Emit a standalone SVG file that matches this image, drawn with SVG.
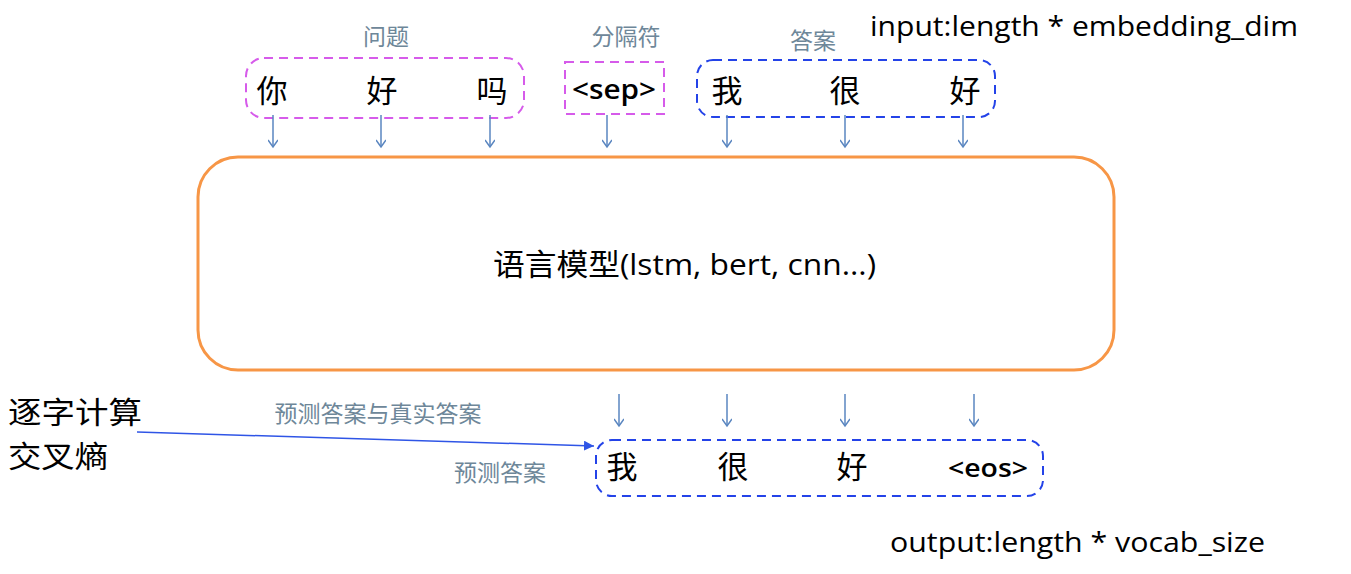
<svg xmlns="http://www.w3.org/2000/svg" width="1351" height="574" viewBox="0 0 1351 574">
<style>
.cn{font-family:"Noto Sans CJK SC","Liberation Serif",serif;fill:#000}
.big{font-size:31px}
.lbl{font-family:"Noto Sans CJK SC",sans-serif;font-size:23px;fill:#6E8799}
.en{font-family:"Open Sans","Liberation Sans",sans-serif;fill:#000}
.arr{stroke:#5A86C0;stroke-width:1.5;fill:none}
</style>
<defs>
<marker id="ah" markerWidth="12" markerHeight="10" refX="8" refY="5" orient="auto" markerUnits="userSpaceOnUse">
<path d="M1,0 L8,5 L1,10" fill="none" stroke="#5A86C0" stroke-width="1.5"/>
</marker>
<marker id="bh" markerWidth="12" markerHeight="10" refX="10" refY="5" orient="auto" markerUnits="userSpaceOnUse">
<path d="M0,0 L10,5 L0,10 z" fill="#2F55E6"/>
</marker>
</defs>
<rect width="1351" height="574" fill="#fff"/>
<g id="question">
<rect x="246" y="58" width="278" height="60" rx="18" fill="none" stroke="#D65BEA" stroke-width="2" stroke-dasharray="9,6"/>
<text class="cn big" x="272" y="102" text-anchor="middle">你</text>
<text class="cn big" x="382" y="102" text-anchor="middle">好</text>
<text class="cn big" x="492" y="102" text-anchor="middle">吗</text>
<text class="lbl" x="386" y="45" text-anchor="middle">问题</text>
</g>
<g id="sep">
<rect x="565" y="62" width="99" height="52" fill="none" stroke="#D65BEA" stroke-width="2" stroke-dasharray="9,6"/>
<text class="en" x="614" y="99" font-size="27" font-weight="600" text-anchor="middle" textLength="84" lengthAdjust="spacingAndGlyphs">&lt;sep&gt;</text>
<text class="lbl" x="626" y="45" text-anchor="middle">分隔符</text>
</g>
<g id="answer">
<rect x="697" y="60" width="298" height="57" rx="16" fill="none" stroke="#2443E8" stroke-width="2" stroke-dasharray="9,6"/>
<text class="cn big" x="727" y="102" text-anchor="middle">我</text>
<text class="cn big" x="845" y="102" text-anchor="middle">很</text>
<text class="cn big" x="965" y="102" text-anchor="middle">好</text>
<text class="lbl" x="813" y="49" text-anchor="middle">答案</text>
</g>
<g id="input-label">
<text class="en" x="870" y="36" font-size="28" textLength="428" lengthAdjust="spacingAndGlyphs">input:length * embedding_dim</text>
</g>
<g id="model">
<rect x="198" y="157" width="916" height="213" rx="40" fill="none" stroke="#F79646" stroke-width="3"/>
<text x="493" y="275" font-size="30" font-family="Open Sans,Noto Sans CJK SC,sans-serif" fill="#000" textLength="383" lengthAdjust="spacingAndGlyphs">语言模型(lstm, bert, cnn...)</text>
</g>
<g id="prediction">
<rect x="596" y="440" width="447" height="56" rx="16" fill="none" stroke="#2443E8" stroke-width="2" stroke-dasharray="9,6"/>
<text class="cn big" x="622" y="478" text-anchor="middle">我</text>
<text class="cn big" x="733" y="478" text-anchor="middle">很</text>
<text class="cn big" x="852" y="478" text-anchor="middle">好</text>
<text class="en" x="988" y="477" font-size="26" font-weight="600" text-anchor="middle" textLength="80" lengthAdjust="spacingAndGlyphs">&lt;eos&gt;</text>
<text class="lbl" x="500" y="481" text-anchor="middle">预测答案</text>
</g>
<g id="loss">
<text class="cn" x="8" y="423" font-size="30" textLength="134" lengthAdjust="spacingAndGlyphs">逐字计算</text>
<text class="cn" x="8" y="467" font-size="30" textLength="100" lengthAdjust="spacingAndGlyphs">交叉熵</text>
<text class="lbl" x="378" y="422" text-anchor="middle">预测答案与真实答案</text>
</g>
<g id="output-label">
<text class="en" x="890" y="552" font-size="28" textLength="375" lengthAdjust="spacingAndGlyphs">output:length * vocab_size</text>
</g>
<g id="connectors">
<line class="arr" x1="273" y1="115" x2="273" y2="147" marker-end="url(#ah)"/>
<line class="arr" x1="381" y1="115" x2="381" y2="147" marker-end="url(#ah)"/>
<line class="arr" x1="490" y1="115" x2="490" y2="147" marker-end="url(#ah)"/>
<line class="arr" x1="607" y1="115" x2="607" y2="147" marker-end="url(#ah)"/>
<line class="arr" x1="727" y1="115" x2="727" y2="147" marker-end="url(#ah)"/>
<line class="arr" x1="845" y1="115" x2="845" y2="147" marker-end="url(#ah)"/>
<line class="arr" x1="963" y1="115" x2="963" y2="147" marker-end="url(#ah)"/>
<line class="arr" x1="619" y1="394" x2="619" y2="426" marker-end="url(#ah)"/>
<line class="arr" x1="727" y1="394" x2="727" y2="426" marker-end="url(#ah)"/>
<line class="arr" x1="845" y1="394" x2="845" y2="426" marker-end="url(#ah)"/>
<line class="arr" x1="974" y1="394" x2="974" y2="426" marker-end="url(#ah)"/>
<line x1="137" y1="432" x2="594" y2="446" stroke="#2F55E6" stroke-width="1.5" marker-end="url(#bh)"/>
</g>
</svg>
